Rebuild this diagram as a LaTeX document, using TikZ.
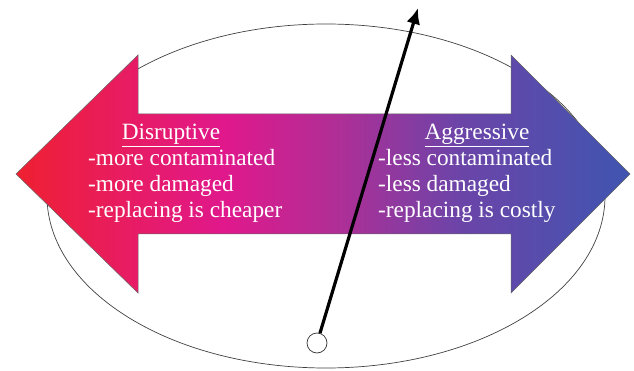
\documentclass[tikz,border=0pt]{standalone}
\usepackage{fontspec}
\setmainfont{Liberation Serif}
\usetikzlibrary{arrows.meta}
\definecolor{cA}{RGB}{238,32,48}
\definecolor{cA2}{RGB}{236,30,72}
\definecolor{cB}{RGB}{224,24,140}
\definecolor{cC}{RGB}{176,46,150}
\definecolor{cD}{RGB}{108,68,168}
\definecolor{cE}{RGB}{63,85,176}
\pgfdeclarehorizontalshading{arrowgrad}{100bp}{color(0bp)=(cA); color(25bp)=(cA); color(29bp)=(cA2); color(42bp)=(cB); color(51bp)=(cC); color(61bp)=(cD); color(75bp)=(cE); color(100bp)=(cE)}
\tikzset{
  txt/.style={text=white, font=\fontsize{23.3}{26}\selectfont, inner sep=0pt},
  needle/.style={line width=3.2pt, -{Latex[length=16pt,width=14pt]}},
}
\begin{document}
\begin{tikzpicture}[x=1pt,y=-1pt]
\useasboundingbox (0,0) rectangle (634,371);
\draw[black!75, line width=0.7pt] (326,196) ellipse [x radius=279, y radius=172];
\path[shading=arrowgrad, draw=black!60, line width=0.5pt]
  (16,174) -- (138,55) -- (138,114) -- (511,114) -- (511,55) -- (630,174)
  -- (511,293) -- (511,234) -- (138,234) -- (138,293) -- cycle;
\node[txt, anchor=base] (dh) at (171,140) {\underline{Disruptive}};
\node[txt, anchor=base west] (d1) at (88,166) {-more contaminated};
\node[txt, anchor=base west] (d2) at (88,192) {-more damaged};
\node[txt, anchor=base west] (d3) at (88,218) {-replacing is cheaper};
\node[txt, anchor=base] (ah) at (477,140) {\underline{Aggressive}};
\node[txt, anchor=base west] (a1) at (378,166) {-less contaminated};
\node[txt, anchor=base west] (a2) at (378,192) {-less damaged};
\node[txt, anchor=base west] (a3) at (378,218) {-replacing is costly};
\node[circle, draw=black!80, fill=white, line width=0.7pt, minimum size=20pt, inner sep=0pt] (pivot) at (317,343) {};
\coordinate (tip) at (418,8);
\draw[needle] (pivot) -- (tip);
\end{tikzpicture}
\end{document}
